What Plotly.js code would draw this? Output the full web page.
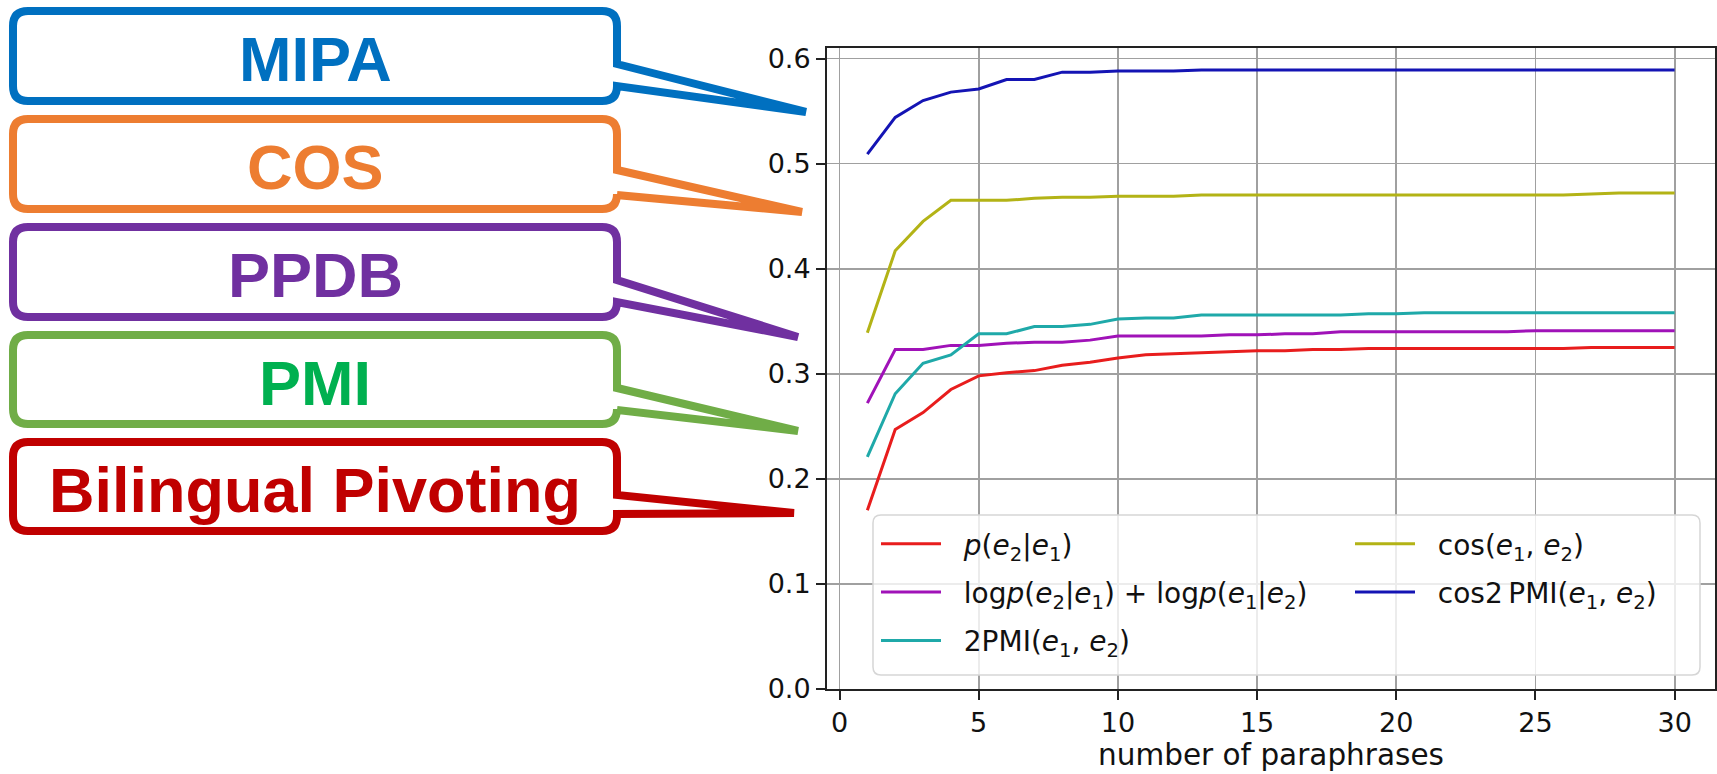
<!DOCTYPE html>
<html>
<head>
<meta charset="utf-8">
<script src="https://cdn.plot.ly/plotly-3.0.1.min.js"></script>
<style>html,body{margin:0;padding:0;background:#fff;}#chart{width:1717px;height:774px;}</style>
</head>
<body>
<div id="chart"></div>
<script>
// ---- data ----
const numParaphrases = [1,2,3,4,5,6,7,8,9,10,11,12,13,14,15,16,17,18,19,20,21,22,23,24,25,26,27,28,29,30];
const pE2E1 = [0.170,0.247,0.263,0.285,0.298,0.301,0.303,0.308,0.311,0.315,0.318,0.319,0.320,0.321,0.322,0.322,0.323,0.323,0.324,0.324,0.324,0.324,0.324,0.324,0.324,0.324,0.325,0.325,0.325,0.325];
const logPSum = [0.272,0.323,0.323,0.327,0.327,0.329,0.330,0.330,0.332,0.336,0.336,0.336,0.336,0.337,0.337,0.338,0.338,0.340,0.340,0.340,0.340,0.340,0.340,0.340,0.341,0.341,0.341,0.341,0.341,0.341];
const twoPMI = [0.221,0.281,0.310,0.318,0.338,0.338,0.345,0.345,0.347,0.352,0.353,0.353,0.356,0.356,0.356,0.356,0.356,0.356,0.357,0.357,0.358,0.358,0.358,0.358,0.358,0.358,0.358,0.358,0.358,0.358];
const cosE = [0.339,0.417,0.445,0.465,0.465,0.465,0.467,0.468,0.468,0.469,0.469,0.469,0.470,0.470,0.470,0.470,0.470,0.470,0.470,0.470,0.470,0.470,0.470,0.470,0.470,0.470,0.471,0.472,0.472,0.472];
const cos2PMI = [0.509,0.544,0.560,0.568,0.571,0.580,0.580,0.587,0.587,0.588,0.588,0.588,0.589,0.589,0.589,0.589,0.589,0.589,0.589,0.589,0.589,0.589,0.589,0.589,0.589,0.589,0.589,0.589,0.589,0.589];

const seriesNames = [
  '<i>p</i>(<i>e</i><sub>2</sub>|<i>e</i><sub>1</sub>)',
  'log<i>p</i>(<i>e</i><sub>2</sub>|<i>e</i><sub>1</sub>) + log<i>p</i>(<i>e</i><sub>1</sub>|<i>e</i><sub>2</sub>)',
  '2PMI(<i>e</i><sub>1</sub>, <i>e</i><sub>2</sub>)',
  'cos(<i>e</i><sub>1</sub>, <i>e</i><sub>2</sub>)',
  'cos2\u2009PMI(<i>e</i><sub>1</sub>, <i>e</i><sub>2</sub>)'
];
const calloutLabels = ['MIPA','COS','PPDB','PMI','Bilingual Pivoting'];
const xTickVals = [0,5,10,15,20,25,30];
const yTickVals = [0.0,0.1,0.2,0.3,0.4,0.5,0.6];

// ---- styling ----
const W = 1717, H = 774;
const px = x => x / W;
const py = y => 1 - y / H;
const lineColors = ['#e81d1d','#a012b8','#1fa9a9','#b3b316','#1414b4'];
const calloutText = ['#0070C0','#ED7D31','#7030A0','#00B050','#C00000'];
const calloutLine = ['#0070C0','#ED7D31','#7030A0','#70AD47','#C00000'];
// box geometry (pixels): top, bottom, pointer upper y, pointer lower y, tip x, tip y, text y
const boxGeo = [
  [11,101,64,86,806,112,59.5],
  [119,209,170,195,802,212,167.5],
  [227,317,280,302,798,337,275],
  [335,424,388,410,798,431,383.5],
  [442,531,495,514,794,513,490]
];
const BL = 13, BR = 617, RAD = 15;
const PAD = '\u00a0\u00a0';

const seriesY = [pE2E1, logPSum, twoPMI, cosE, cos2PMI];
const legendOf = ['legend','legend','legend','legend2','legend2'];
const traces = seriesY.map((ys, i) => ({
  type: 'scatter', mode: 'lines', x: numParaphrases, y: ys, name: PAD + seriesNames[i],
  line: {color: lineColors[i], width: 3}, legend: legendOf[i], legendgroup: 'g' + i,
  hoverinfo: 'skip'
}));

function P(x, y) { return px(x).toFixed(5) + ',' + py(y).toFixed(5); }
function calloutPath(g) {
  const [T, B, y1, y2, tx, ty] = g;
  return 'M' + P(BL + RAD, T) + ' L' + P(BR - RAD, T) + ' Q' + P(BR, T) + ' ' + P(BR, T + RAD) +
    ' L' + P(BR, y1) + ' L' + P(tx, ty) + ' L' + P(BR, y2) + ' L' + P(BR, B - RAD) +
    ' Q' + P(BR, B) + ' ' + P(BR - RAD, B) + ' L' + P(BL + RAD, B) + ' Q' + P(BL, B) + ' ' + P(BL, B - RAD) +
    ' L' + P(BL, T + RAD) + ' Q' + P(BL, T) + ' ' + P(BL + RAD, T) + ' Z';
}
function roundRect(x0, y0, x1, y1, r) {
  return 'M' + P(x0 + r, y0) + ' L' + P(x1 - r, y0) + ' Q' + P(x1, y0) + ' ' + P(x1, y0 + r) +
    ' L' + P(x1, y1 - r) + ' Q' + P(x1, y1) + ' ' + P(x1 - r, y1) + ' L' + P(x0 + r, y1) +
    ' Q' + P(x0, y1) + ' ' + P(x0, y1 - r) + ' L' + P(x0, y0 + r) + ' Q' + P(x0, y0) + ' ' + P(x0 + r, y0) + ' Z';
}

const shapes = boxGeo.map((g, i) => ({
  type: 'path', xref: 'paper', yref: 'paper', path: calloutPath(g),
  line: {color: calloutLine[i], width: 8}, fillcolor: 'rgba(255,255,255,0)', layer: 'above'
}));
shapes.push({
  type: 'path', xref: 'paper', yref: 'paper', path: roundRect(873, 515, 1700, 675, 8),
  line: {color: '#d6d6d6', width: 1.5}, fillcolor: 'rgba(255,255,255,0.8)', layer: 'above'
});

const annotations = boxGeo.map((g, i) => ({
  xref: 'paper', yref: 'paper', x: px(315), y: py(g[6]), xanchor: 'center', yanchor: 'middle',
  text: '<b>' + calloutLabels[i] + '</b>', showarrow: false,
  font: {family: 'Liberation Sans, Arial, sans-serif', size: 63, color: calloutText[i]}
}));

const tickFont = {family: 'DejaVu Sans, sans-serif', size: 27, color: '#111'};
const legendFont = {family: 'DejaVu Sans, sans-serif', size: 28, color: '#111'};
const layout = {
  width: W, height: H,
  margin: {l: 0, r: 0, t: 0, b: 0, pad: 0},
  paper_bgcolor: '#fff', plot_bgcolor: '#fff',
  showlegend: true,
  xaxis: {
    domain: [px(827), px(1715)], range: [-0.45, 31.45], tickvals: xTickVals,
    ticks: 'outside', ticklen: 9, tickwidth: 2, tickcolor: '#222',
    showgrid: true, gridcolor: '#a0a0a0', gridwidth: 1.8, zeroline: false,
    showline: true, linecolor: '#222', linewidth: 2, mirror: true,
    tickfont: tickFont, automargin: false,
    title: {text: 'number of paraphrases', font: {family: 'DejaVu Sans, sans-serif', size: 29.5, color: '#111'}, standoff: 5}
  },
  yaxis: {
    domain: [py(689), py(48)], range: [0, 0.61], tickvals: yTickVals, tickformat: '.1f',
    ticks: 'outside', ticklen: 9, tickwidth: 2, tickcolor: '#222',
    showgrid: true, gridcolor: '#a0a0a0', gridwidth: 1.8, zeroline: false,
    showline: true, linecolor: '#222', linewidth: 2, mirror: true,
    tickfont: tickFont, automargin: false
  },
  legend: {
    x: px(876), y: py(519), xanchor: 'left', yanchor: 'top', bgcolor: 'rgba(0,0,0,0)', borderwidth: 0,
    font: legendFont, tracegroupgap: 9, itemwidth: 60
  },
  legend2: {
    x: px(1350), y: py(519), xanchor: 'left', yanchor: 'top', bgcolor: 'rgba(0,0,0,0)', borderwidth: 0,
    font: legendFont, tracegroupgap: 9, itemwidth: 60
  },
  shapes: shapes,
  annotations: annotations
};

Plotly.newPlot('chart', traces, layout, {displayModeBar: false, staticPlot: true});
</script>
</body>
</html>
